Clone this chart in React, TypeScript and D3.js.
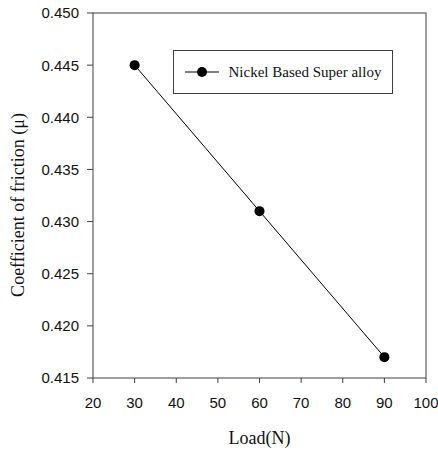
import React from "react";
import * as d3 from "d3";

// Friction coefficient measured at three applied loads
const loads = [30, 60, 90];
const friction = [0.445, 0.431, 0.417];
const seriesName = "Nickel Based Super alloy";

const xTicks = [20, 30, 40, 50, 60, 70, 80, 90, 100];
const yTicks = [0.415, 0.42, 0.425, 0.43, 0.435, 0.44, 0.445, 0.45];

const W = 438;
const H = 453;
const plot = { left: 93, right: 426, top: 13, bottom: 378 };

const axisColor = "#404040";
const sans = "'Liberation Sans', Arial, sans-serif";
const serif = "'Liberation Serif', 'Times New Roman', serif";

export default function App() {
  const x = d3.scaleLinear().domain([20, 100]).range([plot.left, plot.right]);
  const y = d3.scaleLinear().domain([0.415, 0.45]).range([plot.bottom, plot.top]);

  const points = loads.map((l, i) => [l, friction[i]] as [number, number]);
  const line = d3
    .line<[number, number]>()
    .x((d) => x(d[0]))
    .y((d) => y(d[1]));

  const legend = { x: 173.5, y: 50.5, w: 219, h: 43 };

  return (
    <div style={{ position: "fixed", left: 0, top: 0 }}>
      <svg width={W} height={H} style={{ display: "block", background: "#fff" }}>
        {/* frame */}
        <rect
          x={plot.left}
          y={plot.top}
          width={plot.right - plot.left}
          height={plot.bottom - plot.top}
          fill="none"
          stroke={axisColor}
          strokeWidth={1}
        />

        {/* y axis ticks and labels */}
        {yTicks.map((t) => (
          <g key={"y" + t}>
            <line
              x1={plot.left - 6}
              x2={plot.left}
              y1={y(t)}
              y2={y(t)}
              stroke={axisColor}
            />
            <text
              x={plot.left - 14}
              y={y(t)}
              dy="0.36em"
              textAnchor="end"
              fontFamily={sans}
              fontSize={15}
              fill="#111"
            >
              {d3.format(".3f")(t)}
            </text>
          </g>
        ))}

        {/* x axis ticks and labels */}
        {xTicks.map((t) => (
          <g key={"x" + t}>
            <line
              x1={x(t)}
              x2={x(t)}
              y1={plot.bottom}
              y2={plot.bottom + 5}
              stroke={axisColor}
            />
            <text
              x={x(t)}
              y={plot.bottom + 30}
              textAnchor="middle"
              fontFamily={sans}
              fontSize={15}
              fill="#111"
            >
              {t}
            </text>
          </g>
        ))}

        {/* axis titles */}
        <text
          x={(plot.left + plot.right) / 2}
          y={444}
          textAnchor="middle"
          fontFamily={serif}
          fontSize={18}
          fill="#111"
        >
          Load(N)
        </text>
        <text
          transform={`translate(24,205) rotate(-90)`}
          textAnchor="middle"
          fontFamily={serif}
          fontSize={18}
          fill="#111"
        >
          Coefficient of friction (μ)
        </text>

        {/* data series */}
        <path d={line(points) ?? ""} fill="none" stroke="#000" strokeWidth={1} />
        {points.map((p, i) => (
          <circle key={i} cx={x(p[0])} cy={y(p[1])} r={5} fill="#000" />
        ))}

        {/* legend */}
        <rect
          x={legend.x}
          y={legend.y}
          width={legend.w}
          height={legend.h}
          fill="#fff"
          stroke={axisColor}
        />
        <line
          x1={185}
          x2={219}
          y1={legend.y + legend.h / 2}
          y2={legend.y + legend.h / 2}
          stroke="#000"
        />
        <circle cx={202} cy={legend.y + legend.h / 2} r={5} fill="#000" />
        <text
          x={228.5}
          y={legend.y + legend.h / 2}
          dy="0.35em"
          fontFamily={serif}
          fontSize={15}
          fill="#111"
        >
          {seriesName}
        </text>
      </svg>
    </div>
  );
}
